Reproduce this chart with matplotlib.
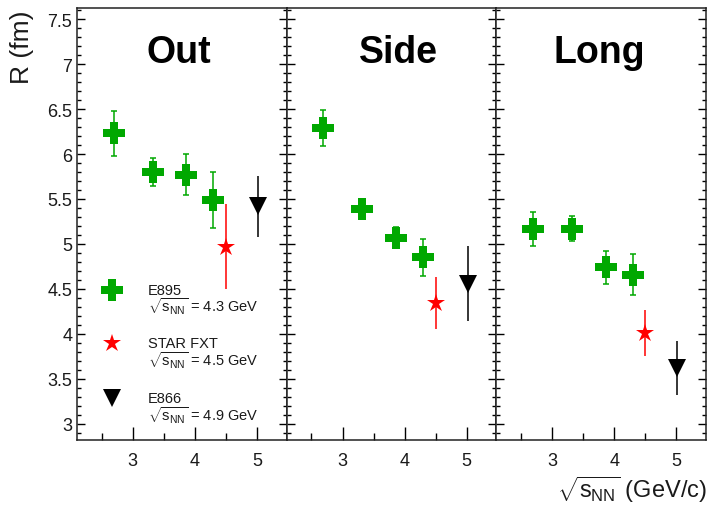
import matplotlib
matplotlib.use("Agg")
import matplotlib.pyplot as plt
from matplotlib.path import Path
from matplotlib.ticker import MultipleLocator, FuncFormatter

plt.rcParams['font.family'] = ['Liberation Sans', 'DejaVu Sans']
plt.rcParams['mathtext.fontset'] = 'custom'
plt.rcParams['mathtext.rm'] = 'Liberation Sans'
plt.rcParams['mathtext.it'] = 'Liberation Sans'
plt.rcParams['mathtext.bf'] = 'Liberation Sans:bold'

# HBT radii vs collision energy
panels = ["Out", "Side", "Long"]

e895_energy = [2.69, 3.32, 3.86, 4.30]
e895_r = {
    "Out": [6.23, 5.80, 5.77, 5.49],
    "Side": [6.29, 5.39, 5.07, 4.85],
    "Long": [5.17, 5.17, 4.74, 4.66],
}
e895_err = {
    "Out": [0.25, 0.16, 0.23, 0.31],
    "Side": [0.20, 0.10, 0.12, 0.21],
    "Long": [0.19, 0.14, 0.18, 0.23],
}

star_energy = [4.5]
star_r = {"Out": [4.97], "Side": [4.34], "Long": [4.01]}
star_err = {"Out": [0.47], "Side": [0.29], "Long": [0.26]}

e866_energy = [5.02]
e866_r = {"Out": [5.42], "Side": [4.56], "Long": [3.62]}
e866_err = {"Out": [0.34], "Side": [0.42], "Long": [0.30]}

legend_names = ["E895", "STAR FXT", "E866"]
legend_sqrts = ["4.3", "4.5", "4.9"]

green = "#00a800"
red = "#ff0000"
black = "#000000"

# fat filled cross, like ROOT marker 34
h = 0.2
cross = Path([(-h, -0.5), (h, -0.5), (h, -h), (0.5, -h), (0.5, h), (h, h),
              (h, 0.5), (-h, 0.5), (-h, h), (-0.5, h), (-0.5, -h), (-h, -h),
              (-h, -0.5)], closed=True)

fig, axes = plt.subplots(1, 3, sharey=True, figsize=(7.09, 5.06), dpi=100)
fig.subplots_adjust(left=0.1086, right=0.9958, bottom=0.1275, top=0.9816, wspace=0)

title_x = {"Out": 0.487, "Side": 0.534, "Long": 0.493}

for ax, name in zip(axes, panels):
    ax.errorbar(e895_energy, e895_r[name], yerr=e895_err[name], fmt="none",
                ecolor=green, elinewidth=1.1, capsize=2, capthick=1.1)
    ax.plot(e895_energy, e895_r[name], ls="none", marker=cross, color=green,
            ms=15.5, mew=0)
    ax.errorbar(star_energy, star_r[name], yerr=star_err[name], fmt="*",
                color=red, ms=13.5, mew=0, elinewidth=1.1, capsize=2, capthick=1.1)
    ax.errorbar(e866_energy, e866_r[name], yerr=e866_err[name], fmt="v",
                color=black, ms=13.5, mew=0, elinewidth=1.1, capsize=2, capthick=1.1)

    ax.set_xlim(2.1, 5.48)
    ax.set_ylim(2.815, 7.62)
    ax.xaxis.set_major_locator(MultipleLocator(1))
    ax.xaxis.set_minor_locator(MultipleLocator(0.5))
    ax.yaxis.set_major_locator(MultipleLocator(0.5))
    ax.yaxis.set_minor_locator(MultipleLocator(0.1))
    ax.yaxis.set_major_formatter(FuncFormatter(lambda v, p: "%g" % v))
    ax.tick_params(axis="y", which="both", direction="in", left=True, right=True,
                   labelsize=13, pad=3.5, labelcolor="#1a1a1a")
    ax.tick_params(axis="y", which="major", length=6, width=1)
    ax.tick_params(axis="y", which="minor", length=3, width=1)
    ax.tick_params(axis="x", which="both", direction="in", top=False,
                   labelsize=13, pad=8, labelcolor="#1a1a1a")
    ax.tick_params(axis="x", which="major", length=9.5, width=1)
    ax.tick_params(axis="x", which="minor", length=5, width=1)
    for s in ax.spines.values():
        s.set_linewidth(1.1)
        s.set_color("#222222")

    ax.text(title_x[name], 0.875, name, transform=ax.transAxes, ha="center",
            va="baseline", fontsize=27, fontweight="bold")

# legend drawn in the first panel
leg_ax = axes[0]
leg_y = [0.349, 0.2256, 0.0983]
leg_style = [(cross, green, 15.5), ("*", red, 13.5), ("v", black, 13.5)]
for (m, c, ms), y, lab, e in zip(leg_style, leg_y, legend_names, legend_sqrts):
    leg_ax.plot([0.169], [y], marker=m, color=c, ms=ms, mew=0, ls="none",
                transform=leg_ax.transAxes, clip_on=False)
    leg_ax.text(0.337, y, lab, transform=leg_ax.transAxes, ha="left",
                va="center", fontsize=10.5, color="#1a1a1a")
    leg_ax.text(0.337, y - 0.038, r"$\sqrt{s_{NN}}$ = " + e + " GeV",
                transform=leg_ax.transAxes, ha="left", va="center",
                fontsize=10.5, color="#1a1a1a")

fig.text(22 / 709, 0.980, "R (fm)", rotation=90, ha="center", va="top",
         fontsize=19, color="#1a1a1a")
fig.text(0.997, 0.032, r"$\sqrt{s_{NN}}$ (GeV/c)", ha="right", va="center",
         fontsize=17, color="#1a1a1a")

fig.savefig("out.png", dpi=100)
